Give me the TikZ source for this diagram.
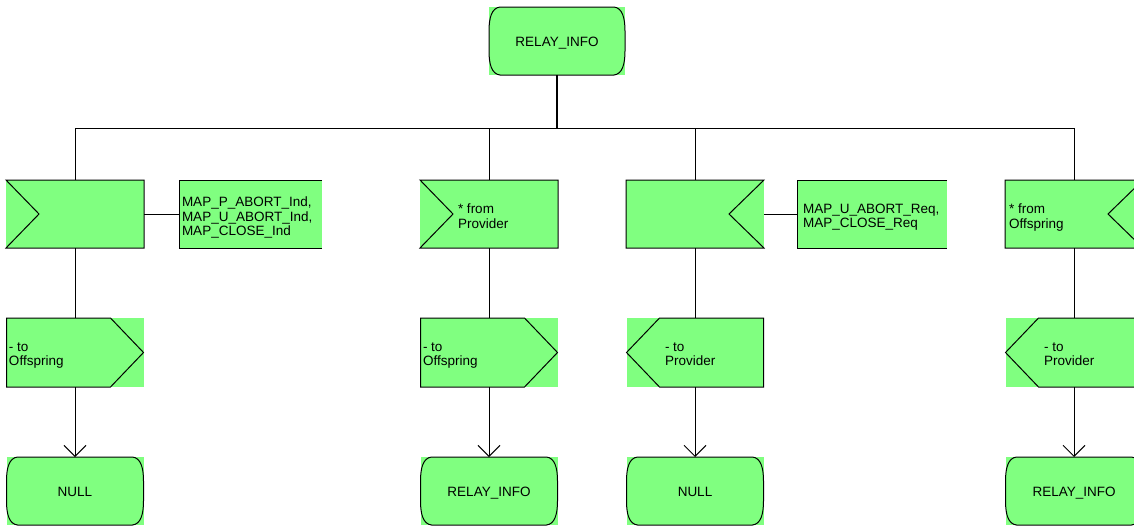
\documentclass[tikz,border=0pt]{standalone}
\usepackage{fontspec}
\setmainfont{Liberation Sans}
\usetikzlibrary{arrows.meta}
\definecolor{sdlgreen}{RGB}{128,255,128}
\newcommand\sdlState[3]{\draw[outline,shift={(#1.north west)}] (11,0) -- (#2-11,0) .. controls (#2-3,1) and (#2,10) .. (#2,24) -- (#2,#3-24) .. controls (#2,#3-10) and (#2-3,#3-1) .. (#2-11,#3) -- (11,#3) .. controls (3,#3-1) and (0,#3-10) .. (0,#3-24) -- (0,24) .. controls (0,10) and (3,1) .. (11,0) -- cycle;}
\newcommand\sdlInL[3]{\draw[outline,shift={(#1.north west)}] (0,0) -- (#2,0) -- (#2,#3) -- (0,#3) -- (33,#3/2) -- cycle;}
\newcommand\sdlInR[3]{\draw[outline,shift={(#1.north west)}] (0,0) -- (#2,0) -- (#2-35,#3/2) -- (#2,#3) -- (0,#3) -- cycle;}
\newcommand\sdlOutR[3]{\draw[outline,shift={(#1.north west)}] (0,0) -- (#2-33,0) -- (#2,#3/2) -- (#2-33,#3) -- (0,#3) -- cycle;}
\newcommand\sdlOutL[3]{\draw[outline,shift={(#1.north west)}] (33,0) -- (#2,0) -- (#2,#3) -- (33,#3) -- (0,#3/2) -- cycle;}
\newcommand\sdlCmt[3]{\draw[outline,shift={(#1.north west)}] (#2,0) -- (0,0) -- (0,#3) -- (#2,#3);}
\begin{document}
\begin{tikzpicture}[x=1pt,y=-1pt,
  box/.style={fill=sdlgreen, draw=none, inner sep=0, outer sep=0, font=\fontsize{13.5}{14.5}\selectfont},
  statebox/.style={box, text height=11.7pt, text depth=0pt},
  txt/.style={inner sep=0, outer sep=0, align=left, anchor=north west, font=\fontsize{13.5}{14.5}\selectfont},
  outline/.style={draw=black, line width=1pt, line join=miter},
  conn/.style={draw=black, line width=1pt},
  arr/.style={-{Straight Barb[length=11pt,width=22pt,line width=1pt]}}
]
\useasboundingbox (0,0) rectangle (1134,528);
\clip (0,0) rectangle (1134,528);

% top state
\node[statebox, minimum width=136pt, minimum height=68pt] (s0) at (557,41) {RELAY\_INFO};
% inputs
\node[box, minimum width=138pt, minimum height=68pt] (i1) at (75,214) {};
\node[box, minimum width=138pt, minimum height=68pt] (i2) at (489,214) {};
\node[box, minimum width=138pt, minimum height=68pt] (i3) at (695,214) {};
\node[box, minimum width=138pt, minimum height=68pt] (i4) at (1074,214) {};
% comments
\node[box, minimum width=143pt, minimum height=68pt] (c1) at (250.5,214) {};
\node[box, minimum width=150pt, minimum height=68pt] (c3) at (872,214) {};
% outputs
\node[box, minimum width=137pt, minimum height=69pt] (o1) at (75,352.5) {};
\node[box, minimum width=137pt, minimum height=69pt] (o2) at (489,352.5) {};
\node[box, minimum width=137pt, minimum height=69pt] (o3) at (695,352.5) {};
\node[box, minimum width=137pt, minimum height=69pt] (o4) at (1074,352.5) {};
% next states
\node[statebox, minimum width=137pt, minimum height=68pt] (n1) at (75,491) {NULL};
\node[statebox, minimum width=137pt, minimum height=68pt] (n2) at (489,491) {RELAY\_INFO};
\node[statebox, minimum width=137pt, minimum height=68pt] (n3) at (695,491) {NULL};
\node[statebox, minimum width=137pt, minimum height=68pt] (n4) at (1074,491) {RELAY\_INFO};

% outlines
\sdlState{s0}{136}{68}
\sdlInL{i1}{138}{68}
\sdlInL{i2}{138}{68}
\sdlInR{i3}{138}{68}
\sdlInR{i4}{138}{68}
\sdlCmt{c1}{143}{68}
\sdlCmt{c3}{150}{68}
\sdlOutR{o1}{137}{69}
\sdlOutR{o2}{137}{69}
\sdlOutL{o3}{137}{69}
\sdlOutL{o4}{137}{69}
\sdlState{n1}{137}{68}
\sdlState{n2}{137}{68}
\sdlState{n3}{137}{68}
\sdlState{n4}{137}{68}

% texts
\node[txt] (tc1) at (182,197) {MAP\_P\_ABORT\_Ind,\\MAP\_U\_ABORT\_Ind,\\MAP\_CLOSE\_Ind};
\node[txt] (tc3) at (803,204) {MAP\_U\_ABORT\_Req,\\MAP\_CLOSE\_Req};
\node[txt] (ti2) at (458,204) {* from\\Provider};
\node[txt] (ti4) at (1009,204) {* from\\Offspring};
\node[txt] (to1) at (9,342.5) {- to\\Offspring};
\node[txt] (to2) at (423,342.5) {- to\\Offspring};
\node[txt] (to3) at (665,342.5) {- to\\Provider};
\node[txt] (to4) at (1044,342.5) {- to\\Provider};

% connectors
\coordinate (bus) at (557,128);
\draw[conn, line width=2pt] (s0.south) -- (s0.south |- bus);
\draw[conn] (i1.north |- bus) -- (i4.north |- bus);
\foreach \k in {1,2,3,4}{
  \draw[conn] (i\k.north |- bus) -- (i\k.north);
  \draw[conn] (i\k.south) -- (o\k.north);
  \draw[conn, arr] (o\k.south) -- (n\k.north);
}
\draw[conn] (i1.east) -- (c1.west);
\draw[conn] (i3.east) -- (c3.west);
\end{tikzpicture}
\end{document}
